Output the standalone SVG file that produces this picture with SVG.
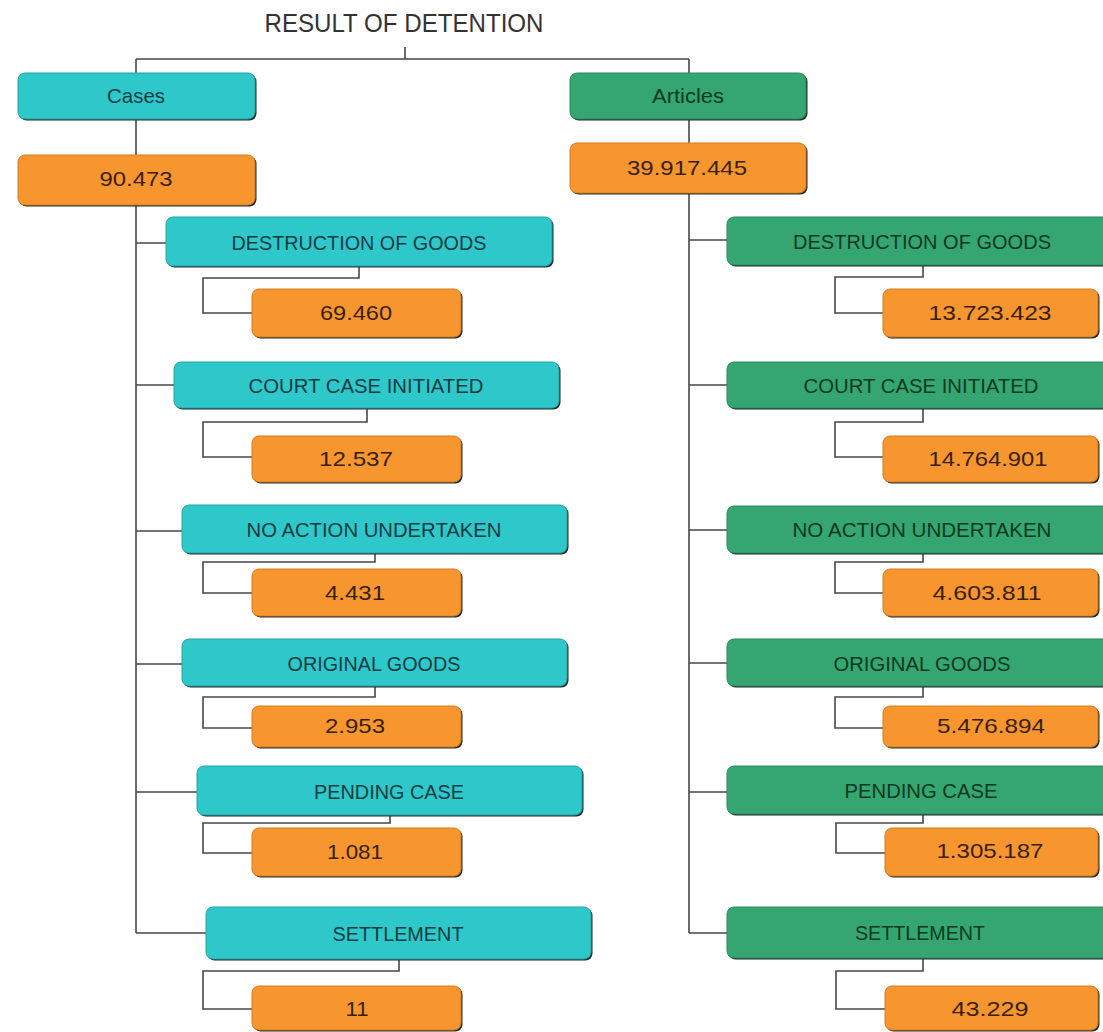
<svg xmlns="http://www.w3.org/2000/svg" width="1103" height="1032" viewBox="0 0 1103 1032">
<style>
  .bg{fill:#ffffff}
  .sh{fill:#1f2b2b}
  .t{fill:#2ec8cb;stroke:#23a4a7;stroke-width:1}
  .g{fill:#35a571;stroke:#2a8a5d;stroke-width:1}
  .o{fill:#f7962f;stroke:#d47c1f;stroke-width:1}
  text{font-family:"Liberation Sans",Arial,sans-serif;font-size:21px;text-anchor:middle}
  .tt{fill:#0f3c42}
  .gt{fill:#0c3a20}
  .ot{fill:#3a200c}
  .title{fill:#333333;font-size:26px}
  .c{fill:none;stroke:#474747;stroke-width:1.6}
</style>
<rect class="bg" x="0" y="0" width="1103" height="1032"/>

<g id="connectors">
  <path class="c" d="M405,47 V59 M136,59 H689 M136,59 V73 M689,59 V73"/>
  <path class="c" d="M136,119 V155 M136,205 V933 M136,243 H166 M136,385 H174 M136,531 H182 M136,664 H182 M136,792 H197 M136,933 H206"/>
  <path class="c" d="M359,267 V278 H203 V313 H252"/>
  <path class="c" d="M367,409 V422 H203 V457 H252"/>
  <path class="c" d="M375,554 V562 H203 V593 H252"/>
  <path class="c" d="M375,687 V697 H203 V728 H252"/>
  <path class="c" d="M390,816 V823 H203 V853 H252"/>
  <path class="c" d="M399,960 V971 H203 V1009 H252"/>
  <path class="c" d="M689,119 V143 M689,193 V933 M689,240 H727 M689,385 H727 M689,530 H727 M689,663 H727 M689,792 H727 M689,933 H727"/>
  <path class="c" d="M923,265 V277 H835 V313 H883"/>
  <path class="c" d="M923,408 V422 H835 V457 H883"/>
  <path class="c" d="M923,553 V562 H835 V593 H883"/>
  <path class="c" d="M923,687 V697 H835 V728 H883"/>
  <path class="c" d="M923,815 V823 H836 V853 H885"/>
  <path class="c" d="M923,959 V971 H836 V1009 H885"/>
</g>

<g id="title">
  <text class="title" x="404" y="32" textLength="279" lengthAdjust="spacingAndGlyphs">RESULT OF DETENTION</text>
</g>

<!-- Left column -->
<g id="cases">
  <rect class="sh" x="19.5" y="74.5" width="237" height="46" rx="7"/>
  <rect class="t" x="18" y="73" width="237" height="46" rx="7"/>
  <text class="tt" x="136" y="103" textLength="58" lengthAdjust="spacingAndGlyphs">Cases</text>
</g>
<g id="cases-total">
  <rect class="sh" x="19.5" y="156.5" width="237" height="50" rx="7"/>
  <rect class="o" x="18" y="155" width="237" height="50" rx="7"/>
  <text class="ot" x="136" y="186" textLength="73" lengthAdjust="spacingAndGlyphs">90.473</text>
</g>
<g id="cases-destruction">
  <rect class="sh" x="167.5" y="218.5" width="386" height="49" rx="7"/>
  <rect class="t" x="166" y="217" width="386" height="49" rx="7"/>
  <text class="tt" x="359" y="250" textLength="255" lengthAdjust="spacingAndGlyphs">DESTRUCTION OF GOODS</text>
</g>
<g id="cases-destruction-val">
  <rect class="sh" x="253.5" y="290.5" width="209" height="48" rx="7"/>
  <rect class="o" x="252" y="289" width="209" height="48" rx="7"/>
  <text class="ot" x="356" y="320" textLength="72" lengthAdjust="spacingAndGlyphs">69.460</text>
</g>
<g id="cases-court">
  <rect class="sh" x="175.5" y="363.5" width="385" height="46" rx="7"/>
  <rect class="t" x="174" y="362" width="385" height="46" rx="7"/>
  <text class="tt" x="366" y="393" textLength="235" lengthAdjust="spacingAndGlyphs">COURT CASE INITIATED</text>
</g>
<g id="cases-court-val">
  <rect class="sh" x="253.5" y="437.5" width="209" height="46" rx="7"/>
  <rect class="o" x="252" y="436" width="209" height="46" rx="7"/>
  <text class="ot" x="356" y="466" textLength="74" lengthAdjust="spacingAndGlyphs">12.537</text>
</g>
<g id="cases-noaction">
  <rect class="sh" x="183.5" y="506.5" width="385" height="48" rx="7"/>
  <rect class="t" x="182" y="505" width="385" height="48" rx="7"/>
  <text class="tt" x="374" y="537" textLength="255" lengthAdjust="spacingAndGlyphs">NO ACTION UNDERTAKEN</text>
</g>
<g id="cases-noaction-val">
  <rect class="sh" x="253.5" y="570.5" width="209" height="47" rx="7"/>
  <rect class="o" x="252" y="569" width="209" height="47" rx="7"/>
  <text class="ot" x="355" y="600" textLength="60" lengthAdjust="spacingAndGlyphs">4.431</text>
</g>
<g id="cases-original">
  <rect class="sh" x="183.5" y="640.5" width="385" height="47" rx="7"/>
  <rect class="t" x="182" y="639" width="385" height="47" rx="7"/>
  <text class="tt" x="374" y="671" textLength="173" lengthAdjust="spacingAndGlyphs">ORIGINAL GOODS</text>
</g>
<g id="cases-original-val">
  <rect class="sh" x="253.5" y="707.5" width="209" height="41" rx="7"/>
  <rect class="o" x="252" y="706" width="209" height="41" rx="7"/>
  <text class="ot" x="355" y="733" textLength="60" lengthAdjust="spacingAndGlyphs">2.953</text>
</g>
<g id="cases-pending">
  <rect class="sh" x="198.5" y="767.5" width="385" height="49" rx="7"/>
  <rect class="t" x="197" y="766" width="385" height="49" rx="7"/>
  <text class="tt" x="389" y="799" textLength="150" lengthAdjust="spacingAndGlyphs">PENDING CASE</text>
</g>
<g id="cases-pending-val">
  <rect class="sh" x="253.5" y="829.5" width="209" height="48" rx="7"/>
  <rect class="o" x="252" y="828" width="209" height="48" rx="7"/>
  <text class="ot" x="355" y="859" textLength="56" lengthAdjust="spacingAndGlyphs">1.081</text>
</g>
<g id="cases-settlement">
  <rect class="sh" x="207.5" y="908.5" width="385" height="52" rx="7"/>
  <rect class="t" x="206" y="907" width="385" height="52" rx="7"/>
  <text class="tt" x="398" y="941" textLength="131" lengthAdjust="spacingAndGlyphs">SETTLEMENT</text>
</g>
<g id="cases-settlement-val">
  <rect class="sh" x="253.5" y="987.5" width="209" height="44" rx="7"/>
  <rect class="o" x="252" y="986" width="209" height="44" rx="7"/>
  <text class="ot" x="357" y="1016" textLength="23" lengthAdjust="spacingAndGlyphs">11</text>
</g>

<!-- Right column -->
<g id="articles">
  <rect class="sh" x="571.5" y="74.5" width="236" height="46" rx="7"/>
  <rect class="g" x="570" y="73" width="236" height="46" rx="7"/>
  <text class="gt" x="688" y="103" textLength="72" lengthAdjust="spacingAndGlyphs">Articles</text>
</g>
<g id="articles-total">
  <rect class="sh" x="571.5" y="144.5" width="236" height="50" rx="7"/>
  <rect class="o" x="570" y="143" width="236" height="50" rx="7"/>
  <text class="ot" x="687" y="175" textLength="120" lengthAdjust="spacingAndGlyphs">39.917.445</text>
</g>
<g id="articles-destruction">
  <rect class="sh" x="728.5" y="218.5" width="386" height="48" rx="7"/>
  <rect class="g" x="727" y="217" width="386" height="48" rx="7"/>
  <text class="gt" x="922" y="249" textLength="258" lengthAdjust="spacingAndGlyphs">DESTRUCTION OF GOODS</text>
</g>
<g id="articles-destruction-val">
  <rect class="sh" x="884.5" y="290.5" width="215" height="48" rx="7"/>
  <rect class="o" x="883" y="289" width="215" height="48" rx="7"/>
  <text class="ot" x="990" y="320" textLength="123" lengthAdjust="spacingAndGlyphs">13.723.423</text>
</g>
<g id="articles-court">
  <rect class="sh" x="728.5" y="363.5" width="386" height="46" rx="7"/>
  <rect class="g" x="727" y="362" width="386" height="46" rx="7"/>
  <text class="gt" x="921" y="393" textLength="235" lengthAdjust="spacingAndGlyphs">COURT CASE INITIATED</text>
</g>
<g id="articles-court-val">
  <rect class="sh" x="884.5" y="437.5" width="215" height="46" rx="7"/>
  <rect class="o" x="883" y="436" width="215" height="46" rx="7"/>
  <text class="ot" x="988" y="466" textLength="119" lengthAdjust="spacingAndGlyphs">14.764.901</text>
</g>
<g id="articles-noaction">
  <rect class="sh" x="728.5" y="507.5" width="386" height="47" rx="7"/>
  <rect class="g" x="727" y="506" width="386" height="47" rx="7"/>
  <text class="gt" x="922" y="537" textLength="259" lengthAdjust="spacingAndGlyphs">NO ACTION UNDERTAKEN</text>
</g>
<g id="articles-noaction-val">
  <rect class="sh" x="884.5" y="570.5" width="215" height="47" rx="7"/>
  <rect class="o" x="883" y="569" width="215" height="47" rx="7"/>
  <text class="ot" x="987" y="600" textLength="109" lengthAdjust="spacingAndGlyphs">4.603.811</text>
</g>
<g id="articles-original">
  <rect class="sh" x="728.5" y="640.5" width="386" height="47" rx="7"/>
  <rect class="g" x="727" y="639" width="386" height="47" rx="7"/>
  <text class="gt" x="922" y="671" textLength="177" lengthAdjust="spacingAndGlyphs">ORIGINAL GOODS</text>
</g>
<g id="articles-original-val">
  <rect class="sh" x="884.5" y="707.5" width="215" height="41" rx="7"/>
  <rect class="o" x="883" y="706" width="215" height="41" rx="7"/>
  <text class="ot" x="991" y="733" textLength="108" lengthAdjust="spacingAndGlyphs">5.476.894</text>
</g>
<g id="articles-pending">
  <rect class="sh" x="728.5" y="767.5" width="386" height="48" rx="7"/>
  <rect class="g" x="727" y="766" width="386" height="48" rx="7"/>
  <text class="gt" x="921" y="798" textLength="153" lengthAdjust="spacingAndGlyphs">PENDING CASE</text>
</g>
<g id="articles-pending-val">
  <rect class="sh" x="886.5" y="829.5" width="213" height="48" rx="7"/>
  <rect class="o" x="885" y="828" width="213" height="48" rx="7"/>
  <text class="ot" x="990" y="858" textLength="107" lengthAdjust="spacingAndGlyphs">1.305.187</text>
</g>
<g id="articles-settlement">
  <rect class="sh" x="728.5" y="908.5" width="386" height="51" rx="7"/>
  <rect class="g" x="727" y="907" width="386" height="51" rx="7"/>
  <text class="gt" x="920" y="940" textLength="130" lengthAdjust="spacingAndGlyphs">SETTLEMENT</text>
</g>
<g id="articles-settlement-val">
  <rect class="sh" x="886.5" y="987.5" width="213" height="44" rx="7"/>
  <rect class="o" x="885" y="986" width="213" height="44" rx="7"/>
  <text class="ot" x="990" y="1016" textLength="77" lengthAdjust="spacingAndGlyphs">43.229</text>
</g>
</svg>
